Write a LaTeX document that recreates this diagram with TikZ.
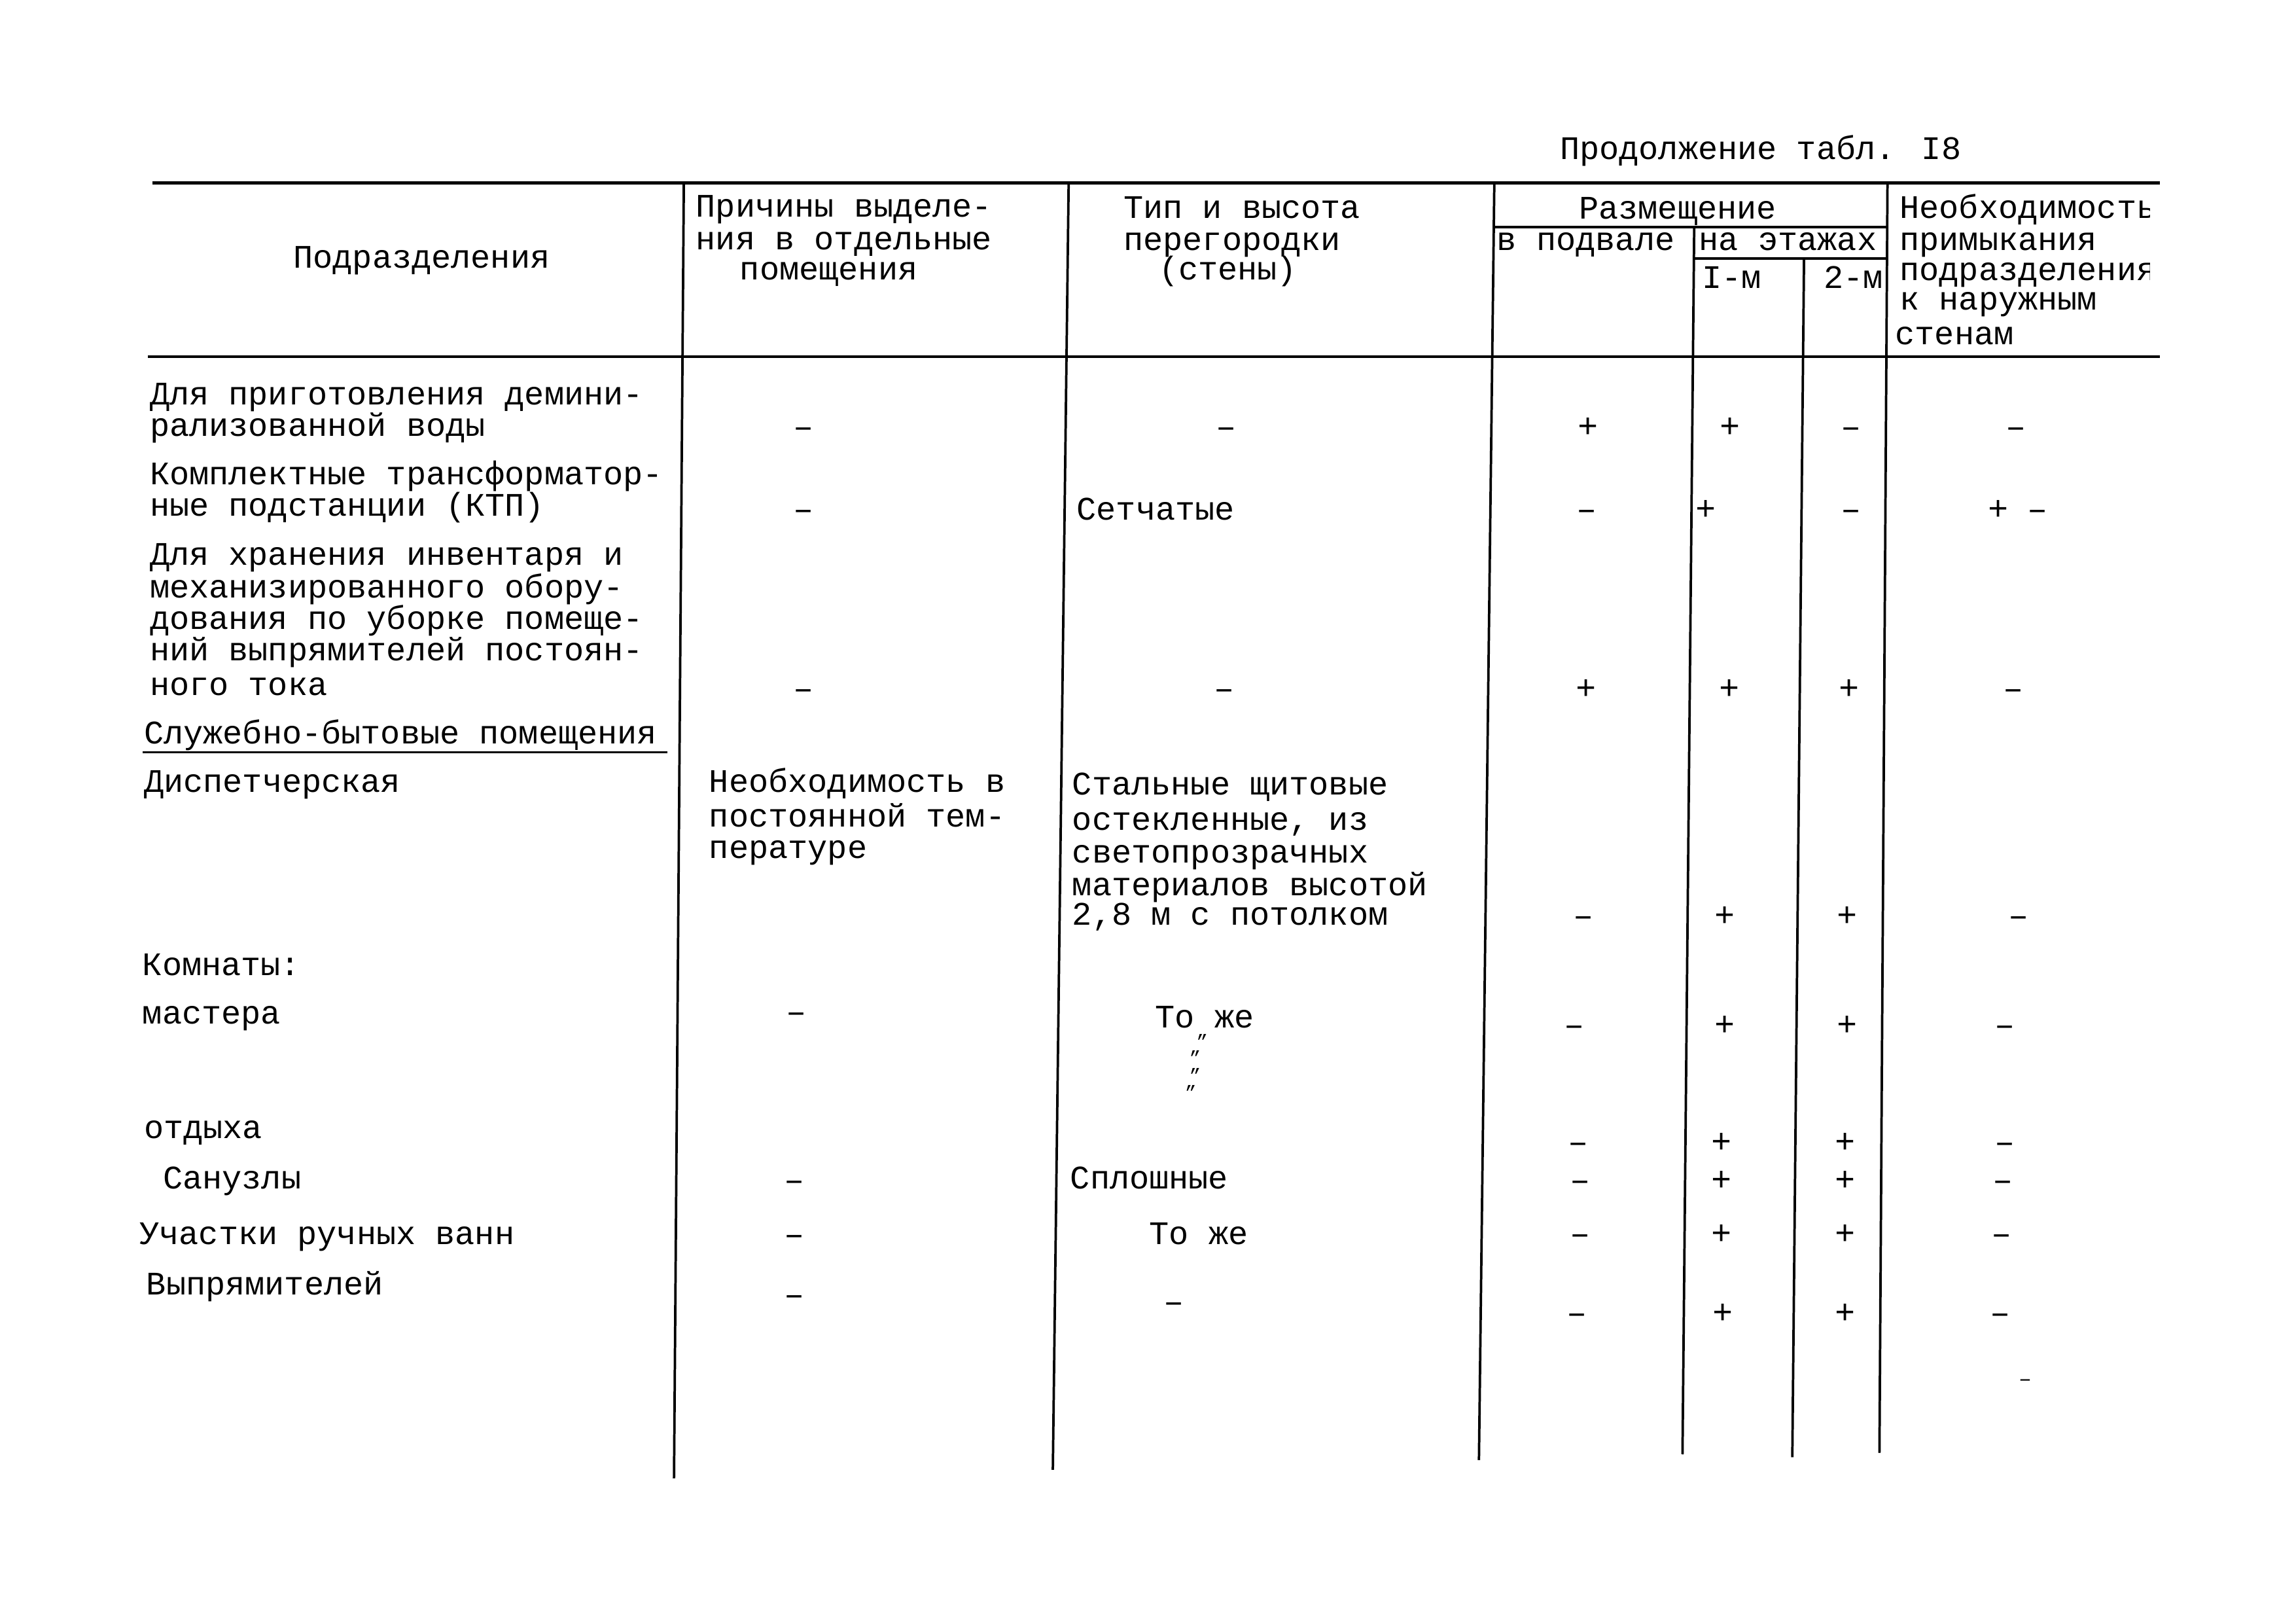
\documentclass[tikz,border=0pt]{standalone}
\usepackage{fontspec}
\setmainfont{Liberation Mono}
\newcounter{tn}
\newcommand\tline[3]{\stepcounter{tn}\node[txt] (t\arabic{tn}) at (#1,#2) {#3};}
\newcommand\pmk[3]{\stepcounter{tn}\node[pmsym] (p\arabic{tn}) at (#1,#2) {#3};}
\newcommand\dit[2]{\stepcounter{tn}\node[dittosym] (d\arabic{tn}) at (#1,#2) {"};}
\begin{document}
\begin{tikzpicture}[x=0.18941mm,y=-0.18941mm,
  txt/.style={anchor=base west,inner sep=0pt,font=\fontsize{12.1}{12}\selectfont},
  pmsym/.style={anchor=base,inner sep=0pt,yshift=-3.4pt,font=\fontsize{12.5}{12}\selectfont},
  dittosym/.style={anchor=north,inner sep=0pt,yshift=1.3pt,font=\fontsize{7}{7}\selectfont},
  hrule/.style={line width=1.1pt},
  subrule/.style={line width=0.8pt},
  vrule/.style={line width=0.9pt}]
\fill[white] (0,0) rectangle (1568,1108);
\useasboundingbox (0,0) rectangle (1568,1108);

% title
\tline{1065}{108.9}{Продолжение табл. I8}

% rules
\draw[hrule] (104,125) -- (1475,125);
\draw[hrule] (101,243.5) -- (1475,243.5);
\draw[subrule] (1020.5,155) -- (1289,155);
\draw[subrule] (1157,176.5) -- (1289,176.5);
\draw[subrule] (97.4,513.5) -- (456,513.5);

% vertical lines
\draw[vrule] (467,125) -- (460.3,1009.4);
\draw[vrule] (729.8,125) -- (719,1003.6);
\draw[vrule] (1020.5,125) -- (1010,997);
\draw[vrule] (1157,155) -- (1149,993);
\draw[vrule] (1232,176.5) -- (1224,995);
\draw[vrule] (1289,125) -- (1283.5,992);

% header
\tline{200}{182.8}{Подразделения}
\tline{475}{148.2}{Причины выделе-}
\tline{475}{170.5}{ния в отдельные}
\tline{505}{191.2}{помещения}
\tline{767}{149}{Тип и высота}
\tline{767}{171}{перегородки}
\tline{791}{191}{(стены)}
\tline{1078}{149.3}{Размещение}
\tline{1022}{171}{в подвале}
\tline{1160}{171}{на этажах}
\tline{1162}{196.7}{I-м}
\tline{1245}{196.7}{2-м}
\begin{scope}
\clip (1290,128) rectangle (1468,242);
\tline{1297}{149}{Необходимость}
\tline{1297}{171}{примыкания}
\tline{1297}{191.5}{подразделения}
\tline{1297}{211.6}{к наружным}
\tline{1294}{235.4}{стенам}
\end{scope}

% column 1
\tline{102}{276.3}{Для приготовления демини-}
\tline{102}{297.7}{рализованной воды}
\tline{102}{331}{Комплектные трансформатор-}
\tline{102}{352.5}{ные подстанции (КТП)}
\tline{102}{386}{Для хранения инвентаря и}
\tline{102}{408}{механизированного обору-}
\tline{102}{429.5}{дования по уборке помеще-}
\tline{102}{451}{ний выпрямителей постоян-}
\tline{102}{474.7}{ного тока}
\tline{98}{507.9}{Служебно-бытовые помещения}
\tline{98}{540.7}{Диспетчерская}
\tline{97}{666}{Комнаты:}
\tline{97}{699}{мастера}
\tline{98}{777.2}{отдыха}
\tline{111}{811.6}{Санузлы}
\tline{95}{849.6}{Участки ручных ванн}
\tline{99.7}{884}{Выпрямителей}

% column 2
\tline{484}{540.7}{Необходимость в}
\tline{484}{564.5}{постоянной тем-}
\tline{484}{586}{пературе}

% column 3
\tline{735}{355}{Сетчатые}
\tline{732}{542.9}{Стальные щитовые}
\tline{732}{566.7}{остекленные, из}
\tline{732}{589}{светопрозрачных}
\tline{732}{611.4}{материалов высотой}
\tline{732}{631.5}{2,8 м с потолком}
\tline{788.6}{701.8}{То же}
\dit{821}{708.2}
\dit{816.2}{719.6}
\dit{816.2}{731.3}
\dit{813.2}{743}
\tline{730.6}{811.6}{Сплошные}
\tline{784.6}{849.6}{То же}

% marks row 1
\pmk{548.7}{292.6}{–}
\pmk{837.5}{292.6}{–}
\pmk{1084.5}{292.6}{+}
\pmk{1181.7}{292.6}{+}
\pmk{1264}{292.6}{–}
\pmk{1376.7}{292.6}{–}
% row 2
\pmk{548.7}{348.7}{–}
\pmk{1083.6}{348.7}{–}
\pmk{1165}{348.7}{+}
\pmk{1264}{348.7}{–}
\pmk{1364.7}{348.7}{+}
\pmk{1391.6}{348.7}{–}
% row 3
\pmk{548.7}{471}{–}
\pmk{836}{471}{–}
\pmk{1083}{471}{+}
\pmk{1181}{471}{+}
\pmk{1263}{471}{+}
\pmk{1375}{471}{–}
% dispatcher
\pmk{1081.6}{626}{–}
\pmk{1177.8}{626}{+}
\pmk{1261.4}{626}{+}
\pmk{1378.4}{626}{–}
% master
\pmk{544}{692}{–}
\pmk{1075}{701}{–}
\pmk{1177.8}{701}{+}
\pmk{1261.4}{701}{+}
\pmk{1369}{701}{–}
% rest
\pmk{1078}{780.6}{–}
\pmk{1175.6}{780.6}{+}
\pmk{1260}{780.6}{+}
\pmk{1369}{780.6}{–}
% sanuzly
\pmk{542.5}{806.8}{–}
\pmk{1079}{806.8}{–}
\pmk{1175.6}{806.8}{+}
\pmk{1260}{806.8}{+}
\pmk{1368}{806.8}{–}
% uchastki
\pmk{542.5}{843.7}{–}
\pmk{1079}{843.5}{–}
\pmk{1175.6}{843.5}{+}
\pmk{1260}{843.5}{+}
\pmk{1367}{843.5}{–}
% vypryamiteley
\pmk{542.5}{885}{–}
\pmk{801.8}{889.7}{–}
\pmk{1077}{897.3}{–}
\pmk{1176.6}{897.3}{+}
\pmk{1260}{897.3}{+}
\pmk{1366}{897.3}{–}
\node[pmsym,font=\fontsize{8}{8}\selectfont] (pextra) at (1383,940) {–};
\end{tikzpicture}
\end{document}
